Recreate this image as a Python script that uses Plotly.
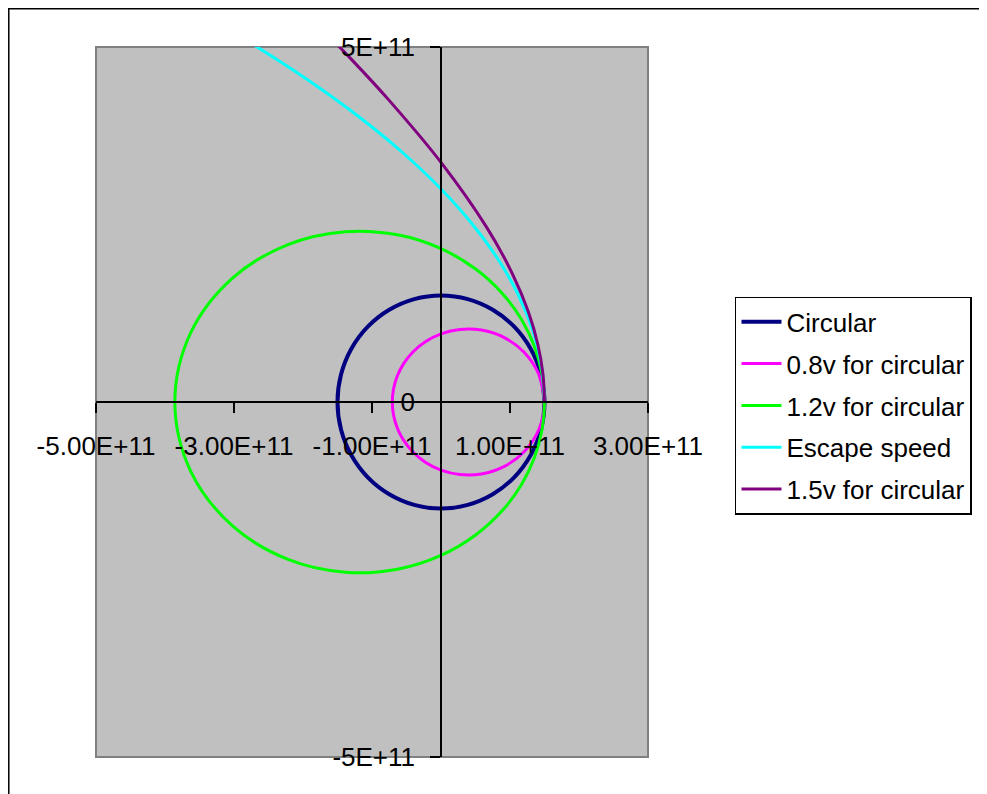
import plotly.graph_objects as go

# All coordinates below are in units of 1E+11 m
SCALE = 1e11

circular_x = [1.5, 1.449, 1.299, 1.061, 0.75, 0.388, 0.0, -0.388, -0.75, -1.061, -1.299, -1.449, -1.5,
              -1.449, -1.299, -1.061, -0.75, -0.388, 0.0, 0.388, 0.75, 1.061, 1.299, 1.449, 1.5, 1.449]
circular_y = [0.0, 0.388, 0.75, 1.061, 1.299, 1.449, 1.5, 1.449, 1.299, 1.061, 0.75, 0.388, 0.0,
              -0.388, -0.75, -1.061, -1.299, -1.449, -1.5, -1.449, -1.299, -1.061, -0.75, -0.388, 0.0, 0.388]

slow_x = [1.5, 1.4215, 1.2081, 0.9107, 0.5854, 0.274, 0.0, -0.2273, -0.4068, -0.5411, -0.6338, -0.688, -0.7059,
          -0.688, -0.6338, -0.5411, -0.4068, -0.2273, 0.0, 0.274, 0.5854, 0.9107, 1.2081, 1.4215, 1.5, 1.4215]
slow_y = [0.0, 0.3809, 0.6975, 0.9107, 1.0139, 1.0226, 0.96, 0.8483, 0.7046, 0.5411, 0.3659, 0.1843, 0.0,
          -0.1843, -0.3659, -0.5411, -0.7046, -0.8483, -0.96, -1.0226, -1.0139, -0.9107, -0.6975, -0.3809, 0.0, 0.3809]

fast_x = [1.5, 1.4641, 1.3545, 1.1649, 0.8852, 0.5018, 0.0, -0.6309, -1.3846, -2.2171, -3.0219, -3.6284, -3.8571,
          -3.6284, -3.0219, -2.2171, -1.3846, -0.6309, 0.0, 0.5018, 0.8852, 1.1649, 1.3545, 1.4641, 1.5, 1.4641]
fast_y = [0.0, 0.3923, 0.782, 1.1649, 1.5333, 1.873, 2.16, 2.3545, 2.3982, 2.2171, 1.7447, 0.9722, 0.0,
          -0.9722, -1.7447, -2.2171, -2.3982, -2.3545, -2.16, -1.873, -1.5333, -1.1649, -0.782, -0.3923, 0.0, 0.3923]

escape_x = [1.5, 1.4583, 1.3333, 1.125, 0.8333, 0.4583, 0.0, -0.5417, -1.1667, -1.875, -2.6667, -3.5417]
escape_y = [0.0, 0.5, 1.0, 1.5, 2.0, 2.5, 3.0, 3.5, 4.0, 4.5, 5.0, 5.5]

hyper_x = [1.5, 1.4769, 1.4035, 1.2668, 1.0385, 0.66, 0.0, -0.7483, -1.2911, -2.0162]
hyper_y = [0.0, 0.3957, 0.8103, 1.2668, 1.7987, 2.4631, 3.375, 4.2448, 4.8188, 5.5397]

series_names = ["Circular", "0.8v for circular", "1.2v for circular", "Escape speed", "1.5v for circular"]
series_colors = ["#000080", "#FF00FF", "#00FF00", "#00FFFF", "#800080"]
series_widths = [4, 3, 3, 3, 3]
series_x = [circular_x, slow_x, fast_x, escape_x, hyper_x]
series_y = [circular_y, slow_y, fast_y, escape_y, hyper_y]

x_tick_vals = [-5e11, -3e11, -1e11, 1e11, 3e11]
x_tick_text = ["-5.00E+11", "-3.00E+11", "-1.00E+11", "1.00E+11", "3.00E+11"]
y_tick_vals = [-5e11, 0, 5e11]
y_tick_text = ["-5E+11", "0", "5E+11"]

FONT = "Liberation Sans, Arial, sans-serif"

fig = go.Figure()
for name, xs, ys, col, w in zip(series_names, series_x, series_y, series_colors, series_widths):
    fig.add_trace(go.Scatter(
        x=[v * SCALE for v in xs], y=[v * SCALE for v in ys],
        mode="lines", name=name, legendgroup=name,
        line=dict(color=col, width=w, shape="spline"),
    ))

fig.update_layout(
    width=979, height=786,
    margin=dict(l=88, r=339, t=39, b=37),
    plot_bgcolor="#C0C0C0", paper_bgcolor="white",
    font=dict(family=FONT, size=26, color="black"),
    showlegend=True,
    hovermode=False,
    legend=dict(
        x=1.1576, y=0.648, xanchor="left", yanchor="top",
        bordercolor="black", borderwidth=1.5, bgcolor="white",
        tracegroupgap=5, itemwidth=40,
        font=dict(family=FONT, size=26, color="black"),
    ),
    shapes=[
        dict(type="rect", xref="x domain", yref="y domain", x0=0, x1=1, y0=0, y1=1,
             line=dict(color="#808080", width=2), layer="below"),
        dict(type="rect", xref="paper", yref="paper", x0=-0.158, x1=1.7, y0=-0.1, y1=1.0539,
             line=dict(color="black", width=1.5), layer="above"),
    ],
)

fig.update_xaxes(
    range=[-5e11, 3e11], anchor="free", position=0.5,
    showline=True, linecolor="black", linewidth=1.5,
    ticks="outside", ticklen=10, tickwidth=1.5, tickcolor="black",
    tickvals=x_tick_vals, ticktext=x_tick_text,
    showgrid=False, zeroline=False, ticklabelstandoff=11,
)
fig.update_yaxes(
    range=[-5e11, 5e11], anchor="free", position=0.625,
    showline=True, linecolor="black", linewidth=1.5,
    ticks="outside", ticklen=10, tickwidth=1.5, tickcolor="black",
    tickvals=y_tick_vals, ticktext=y_tick_text,
    showgrid=False, zeroline=False, ticklabelstandoff=10,
)

fig.write_html("out.html")
